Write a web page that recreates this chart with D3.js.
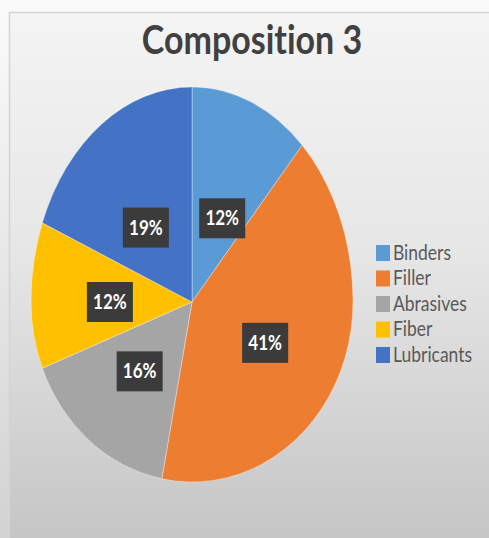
<!DOCTYPE html>
<html><head><meta charset="utf-8">
<script src="https://cdn.jsdelivr.net/npm/d3@7"></script>
<style>html,body{margin:0;padding:0;background:#fff;}svg{display:block;}text{font-variant-ligatures:none;}</style>
</head><body>
<script>
const title = "Composition 3";
const categories = ["Binders", "Filler", "Abrasives", "Fiber", "Lubricants"];
const values = [12, 41, 16, 12, 19];
const labels = ["12%", "41%", "16%", "12%", "19%"];
const colors = ["#5b9bd5", "#ed7d31", "#a5a5a5", "#ffc000", "#4472c4"];

const W = 489, H = 538;
const svg = d3.select("body").append("svg").attr("width", W).attr("height", H);
const defs = svg.append("defs");
const g1 = defs.append("linearGradient").attr("id","outer").attr("x1",0).attr("y1",0).attr("x2",0).attr("y2",1);
g1.append("stop").attr("offset","0%").attr("stop-color","#fbfbfb");
g1.append("stop").attr("offset","100%").attr("stop-color","#d2d2d2");
const g2 = defs.append("linearGradient").attr("id","panel").attr("x1",0).attr("y1",0).attr("x2",0).attr("y2",1);
g2.append("stop").attr("offset","0%").attr("stop-color","#f4f4f4");
g2.append("stop").attr("offset","45%").attr("stop-color","#e6e6e6");
g2.append("stop").attr("offset","100%").attr("stop-color","#c4c4c4");

svg.append("rect").attr("width",W).attr("height",H).attr("fill","url(#outer)");
svg.append("rect").attr("x",9.5).attr("y",12.5).attr("width",W).attr("height",H)
  .attr("fill","url(#panel)").attr("stroke","#d4d4d4").attr("stroke-width",1.5);

// title
svg.append("text").attr("transform","translate(252,54) scale(1,1.15)")
  .attr("text-anchor","middle").attr("font-family","Lato, 'Open Sans', sans-serif")
  .attr("font-weight","bold").attr("font-size",34).attr("fill","#404040").text(title);

// pie
const cx = 192, cy = 302, rx = 161, ryTop = 215, ryBot = 180, ryLab = 180;
const pie = d3.pie().sort(null).value(d => d)(values);
const arc = d3.arc().innerRadius(0).outerRadius(rx);

defs.append("clipPath").attr("id","cTop").append("rect").attr("x",0).attr("y",0).attr("width",W).attr("height",cy+0.5);
defs.append("clipPath").attr("id","cBot").append("rect").attr("x",0).attr("y",cy-0.5).attr("width",W).attr("height",H-cy);

[["cTop", ryTop], ["cBot", ryBot]].forEach(([clip, ry]) => {
  const wrap = svg.append("g").attr("clip-path", `url(#${clip})`);
  wrap.append("g").attr("transform", `translate(${cx},${cy}) scale(1,${ry/rx})`)
    .selectAll("path").data(pie).join("path")
    .attr("d", arc).attr("fill", (d,i) => colors[i])
    .attr("stroke","#ffffff").attr("stroke-opacity",0.35).attr("stroke-width",1)
    .attr("vector-effect","non-scaling-stroke");
});

// data labels
const lab = svg.append("g");
const labArc = d3.arc().innerRadius(0).outerRadius(rx);
pie.forEach((d,i) => {
  const c = labArc.centroid(d);
  const x = cx + c[0] * 1.02;
  const y = cy + c[1] * (ryLab / rx);
  const gg = lab.append("g").attr("transform", `translate(${x},${y})`);
  gg.append("rect").attr("x",-23).attr("y",-20).attr("width",46).attr("height",40).attr("fill","#3b3b3b");
  gg.append("text").attr("transform","translate(0,7) scale(1,1.2)")
    .attr("text-anchor","middle").attr("font-family","Lato, 'Open Sans', sans-serif")
    .attr("font-weight","bold").attr("font-size",17).attr("fill","#ffffff").text(labels[i]);
});

// legend
const leg = svg.append("g");
categories.forEach((c,i) => {
  const y = 253 + i * 25.5;
  leg.append("rect").attr("x",376).attr("y",y-8).attr("width",14).attr("height",16).attr("fill",colors[i]);
  leg.append("text").attr("transform",`translate(393,${y+6.5}) scale(1,1.2)`)
    .attr("font-family","Lato, 'Open Sans', sans-serif").attr("font-size",17.5)
    .attr("fill","#595959").text(c);
});
</script>
</body></html>
